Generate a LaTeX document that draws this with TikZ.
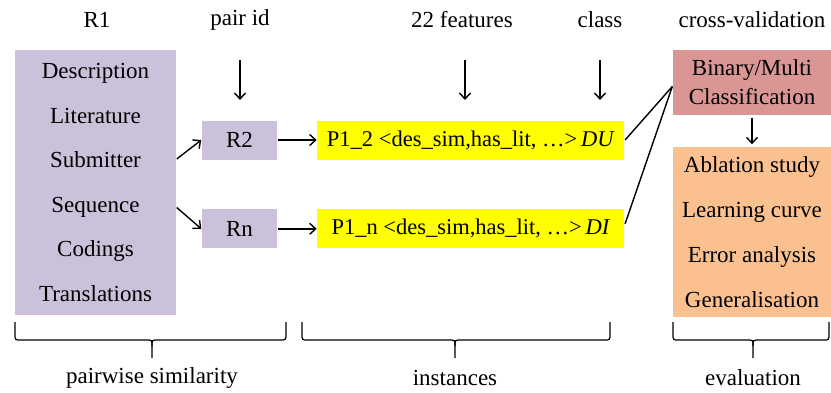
\documentclass[tikz,border=0pt]{standalone}
\usepackage{fontspec}
\setmainfont{Liberation Serif}
\usetikzlibrary{positioning, arrows.meta}

\definecolor{lilac}{HTML}{CCC1DA}
\definecolor{featyellow}{HTML}{FFFF00}
\definecolor{rosered}{HTML}{D99694}
\definecolor{peach}{HTML}{FAC090}

\tikzstyle{record} = [rectangle, inner sep=0pt, text centered, fill=lilac]
\tikzstyle{instance} = [rectangle, inner sep=0pt, minimum width=307pt, minimum height=39pt, fill=featyellow,
font=\fontsize{22.5}{26}\selectfont]
\tikzstyle{header} = [inner sep=2pt]
\tikzstyle{group} = [line width=1.2pt]

% curly brace under a stage: left end, middle, right end
\newcommand{\stagebrace}[3]{
    \draw[group] (#1,322) -- (#1,334) .. controls (#1,340) .. ({#1+6},340) -- ({#2-6},340)
        .. controls (#2,340) .. (#2,346) -- (#2,358);
    \draw[group] (#2,346) .. controls (#2,340) .. ({#2+6},340) -- ({#3-6},340)
        .. controls (#3,340) .. (#3,334) -- (#3,322);
}

\begin{document}
\begin{tikzpicture}[x=1pt, y=-1pt, font=\fontsize{23}{27}\selectfont,
    >={Straight Barb[length=6pt, width=11pt]}, line width=1.4pt]
    \useasboundingbox (0,0) rectangle (831,392);

    % column headers
    \node[header](r1) at (97,20) {R1};
    \node[header](pairid) at (240,20) {pair id};
    \node[header](feat) at (462,20) {22 features};
    \node[header](class) at (600,20) {class};
    \node[header](cv) at (752,20) {cross-validation};

    \node(attr)[record, minimum width=161pt, minimum height=265pt, align=center,
        font=\fontsize{23}{44.6}\selectfont] at (95.5,182.5)
        {Description\\Literature\\Submitter\\Sequence\\Codings\\Translations};
    \node(r2)[record, minimum width=75pt, minimum height=39pt] at (239.5,140) {R2};
    \node(rn)[record, below=48.4pt of r2, minimum width=75pt, minimum height=39pt] {Rn};

    \node(p12)[instance, right=39pt of r2] {P1\_2 <des\_sim,has\_lit, \dots{}>\,\textit{DU}};
    \node(p1n)[instance, right=39pt of rn] {P1\_n <des\_sim,has\_lit, \dots{}>\,\textit{DI}};

    \node(cls)[rectangle, inner sep=0pt, minimum width=158pt, minimum height=65pt, fill=rosered,
        align=center, font=\fontsize{23}{29}\selectfont] at (752,82.5) {Binary/Multi\\Classification};
    \node(eval)[rectangle, inner sep=0pt, minimum width=158pt, minimum height=170pt, fill=peach,
        align=center, font=\fontsize{23}{45}\selectfont] at (752,232)
        {Ablation study\\Learning curve\\Error analysis\\Generalisation};

    \coordinate (pairEnd) at (240,100);
    \coordinate (featEnd) at (465,100);
    \coordinate (classEnd) at (600,100);

    \draw[->] (pairid) ++(0,40) -- (pairEnd);
    \draw[->] (feat) ++(3,40) -- (featEnd);
    \draw[->] (class) ++(0,40) -- (classEnd);

    \draw[->] ([yshift=23.5pt]attr.east) -- (r2.west);
    \draw[->] ([yshift=-25pt]attr.east) -- (rn.west);
    \draw[->] (r2) -- (p12);
    \draw[->] (rn) -- (p1n);
    \draw (p12.east) -- ([yshift=-4pt]cls.west);
    \draw ([yshift=5pt]p1n.east) -- ([yshift=-4pt]cls.west);
    \draw[->, shorten <=2pt, shorten >=2pt] (cls) -- (eval);

    % braces under the three stages
    \stagebrace{15}{152}{286}
    \stagebrace{302}{455}{610}
    \stagebrace{673}{753}{829}

    \node[header](simlabel) at (152,378) {pairwise similarity};
    \node[header](instlabel) at (455,378) {instances};
    \node[header](evallabel) at (753,378) {evaluation};
\end{tikzpicture}
\end{document}
